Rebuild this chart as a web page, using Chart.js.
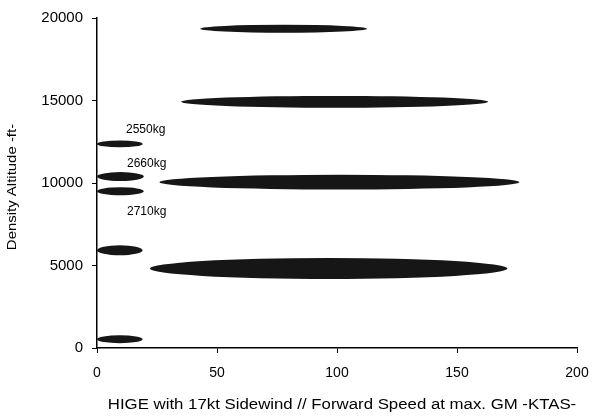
<!DOCTYPE html>
<html>
<head>
<meta charset="utf-8">
<script src="https://cdn.jsdelivr.net/npm/chart.js@4.4.0/dist/chart.umd.min.js"></script>
<style>
  html, body { margin: 0; padding: 0; background: #fff; }
  #wrap { width: 595px; height: 417px; position: relative; }
</style>
</head>
<body>
<div id="wrap"><canvas id="chart"></canvas></div>
<script>
// ---------- DATA ----------
// each band: density altitude (ft), forward speed range (KTAS), altitude spread (ft)
const altitudes = [19350, 14920, 10050, 4820, 12370, 10390, 9500, 5920, 530];
const speedMin  = [43, 35, 26, 22, 0, 0, 0, 0, 0];
const speedMax  = [112.5, 163, 176, 171, 19, 19.5, 19.5, 19, 19];
const altSpread = [480, 720, 900, 1270, 420, 540, 480, 600, 480];
const massLabels = ["2550kg", "2660kg", "2710kg"];
const xTicks = [0, 50, 100, 150, 200];
const yTicks = [0, 5000, 10000, 15000, 20000];
const xTitle = "HIGE with 17kt Sidewind // Forward Speed at max. GM -KTAS-";
const yTitle = "Density Altitude -ft-";

const FONT = "'Liberation Sans', Arial, sans-serif";

// ---------- ELLIPSE + TEXT PLUGIN ----------
// mass labels hang off the small low-speed bands (band index, pixel offset)
const labelSpots = [{ band: 4, dx: 29, dy: -14 }, { band: 5, dx: 30, dy: -13 }, { band: 6, dx: 30, dy: 20 }];

const ellipsePlugin = {
  id: "ellipses",
  afterDatasetsDraw(chart) {
    const { ctx, chartArea, scales: { x, y } } = chart;
    ctx.save();
    ctx.fillStyle = "#161616";
    altitudes.forEach(function (alt, i) {
      const x0 = x.getPixelForValue(speedMin[i]);
      const x1 = x.getPixelForValue(speedMax[i]);
      const yTop = y.getPixelForValue(alt + altSpread[i] / 2);
      const yBot = y.getPixelForValue(alt - altSpread[i] / 2);
      ctx.beginPath();
      ctx.ellipse((x0 + x1) / 2, y.getPixelForValue(alt), (x1 - x0) / 2, (yBot - yTop) / 2, 0, 0, Math.PI * 2);
      ctx.fill();
    });

    ctx.fillStyle = "#000";
    ctx.font = "12px " + FONT;
    ctx.textBaseline = "middle";
    labelSpots.forEach(function (s, k) {
      const px = x.getPixelForValue(speedMin[s.band]) + s.dx;
      const py = y.getPixelForValue(altitudes[s.band]) + s.dy;
      ctx.fillText(massLabels[k], px, py);
    });

    // axis titles, stretched a little along the reading direction like the scan
    ctx.textAlign = "center";
    ctx.font = "14px " + FONT;
    ctx.save();
    ctx.translate((chartArea.left + chartArea.right) / 2 + 5, 405);
    ctx.scale(1.2, 1);
    ctx.fillText(xTitle, 0, 0);
    ctx.restore();

    ctx.font = "13px " + FONT;
    ctx.save();
    ctx.translate(12, 187);
    ctx.rotate(-Math.PI / 2);
    ctx.scale(1.15, 1);
    ctx.fillText(yTitle, 0, 0);
    ctx.restore();
    ctx.restore();
  }
};

// ---------- CHART ----------
const bands = altitudes.map(function (alt, i) {
  return { y: alt, x: [speedMin[i], speedMax[i]] };
});

new Chart(document.getElementById("chart"), {
  type: "bar",
  data: {
    datasets: [{
      data: bands,
      backgroundColor: "rgba(0,0,0,0)",
      borderWidth: 0
    }]
  },
  options: {
    indexAxis: "y",
    responsive: true,
    maintainAspectRatio: false,
    animation: false,
    layout: { padding: { top: 17, right: 18, left: 0, bottom: 0 } },
    plugins: {
      legend: { display: false },
      tooltip: { enabled: false }
    },
    scales: {
      x: {
        type: "linear",
        min: xTicks[0],
        max: xTicks[xTicks.length - 1],
        offset: false,
        afterFit: function (scale) { scale.height = 69; scale.paddingRight = 0; },
        ticks: {
          stepSize: xTicks[1] - xTicks[0],
          color: "#000",
          font: { family: FONT, size: 14 },
          padding: 12,
          callback: v => String(v)
        },
        grid: { drawOnChartArea: false, drawTicks: true, tickLength: 5, color: "#000", lineWidth: 1, offset: false },
        border: { display: true, color: "#000", width: 1.5 }
      },
      y: {
        type: "linear",
        min: yTicks[0],
        max: yTicks[yTicks.length - 1],
        offset: false,
        afterFit: function (scale) { scale.width = 97; },
        ticks: {
          stepSize: yTicks[1] - yTicks[0],
          color: "#000",
          font: { family: FONT, size: 15 },
          padding: 9,
          callback: v => String(v)
        },
        grid: { drawOnChartArea: false, drawTicks: true, tickLength: 5, color: "#000", lineWidth: 1, offset: false },
        border: { display: true, color: "#000", width: 1.5 }
      }
    }
  },
  plugins: [ellipsePlugin]
});
</script>
</body>
</html>
